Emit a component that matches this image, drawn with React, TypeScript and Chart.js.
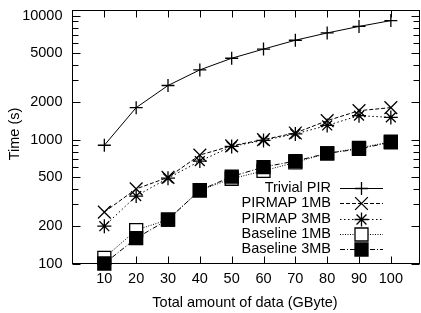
import React, { useEffect, useRef } from 'react';
import { Chart, registerables } from 'chart.js';

Chart.register(...registerables);

// ---- data ----
const xValues = [10, 20, 30, 40, 50, 60, 70, 80, 90, 100];
const trivialPIR = [900, 1810, 2730, 3650, 4530, 5370, 6330, 7250, 8180, 9120];
const pirmap1MB = [260, 400, 495, 750, 890, 1000, 1130, 1420, 1710, 1810];
const pirmap3MB = [200, 350, 488, 670, 880, 985, 1110, 1300, 1560, 1510];
const baseline1MB = [111, 186, 226, 390, 483, 559, 655, 774, 855, 960];
const baseline3MB = [100, 160, 226, 390, 503, 600, 671, 774, 840, 950];
const seriesLabels = ['Trivial PIR', 'PIRMAP 1MB', 'PIRMAP 3MB', 'Baseline 1MB', 'Baseline 3MB'];
const seriesValues = [trivialPIR, pirmap1MB, pirmap3MB, baseline1MB, baseline3MB];

const xTicks = [10, 20, 30, 40, 50, 60, 70, 80, 90, 100];
const yTicks = [100, 200, 500, 1000, 2000, 5000, 10000];
const yTickLabels = ['100', '200', '500', '1000', '2000', '5000', '10000'];
const yMinorTicks = [300, 400, 600, 700, 800, 900, 3000, 4000, 6000, 7000, 8000, 9000];
const xTitle = 'Total amount of data (GByte)';
const yTitle = 'Time (s)';

// ---- styles ----
const FONT = '14.5px "Liberation Sans", Arial, sans-serif';
const seriesStyles = [
  { pointStyle: 'cross', radius: 6.5, dash: [] as number[], fill: '#000' },
  { pointStyle: 'crossRot', radius: 9, dash: [4, 2], fill: '#000' },
  { pointStyle: 'star', radius: 7, dash: [1.5, 2.5], fill: '#000' },
  { pointStyle: 'rect', radius: 9.2, dash: [1, 1.5], fill: '#fff' },
  { pointStyle: 'rect', radius: 9.2, dash: [5, 2, 1, 2], fill: '#000' },
];

function drawMarker(ctx: CanvasRenderingContext2D, style: string, x: number, y: number, r: number, fill: string) {
  ctx.save();
  ctx.setLineDash([]);
  ctx.lineWidth = 1.3;
  ctx.strokeStyle = '#000';
  ctx.beginPath();
  const d = r * Math.SQRT1_2;
  if (style === 'cross' || style === 'star') {
    ctx.moveTo(x - r, y); ctx.lineTo(x + r, y);
    ctx.moveTo(x, y - r); ctx.lineTo(x, y + r);
  }
  if (style === 'crossRot' || style === 'star') {
    ctx.moveTo(x - d, y - d); ctx.lineTo(x + d, y + d);
    ctx.moveTo(x - d, y + d); ctx.lineTo(x + d, y - d);
  }
  if (style === 'rect') {
    ctx.rect(x - d, y - d, 2 * d, 2 * d);
    ctx.fillStyle = fill;
    ctx.fill();
  }
  ctx.stroke();
  ctx.restore();
}

const axesPlugin = {
  id: 'gnuplotAxes',
  beforeDatasetsDraw(chart: any) {
    const { ctx, chartArea: a, scales } = chart;
    const x = scales.x, y = scales.y;
    ctx.save();
    ctx.strokeStyle = '#000';
    ctx.lineWidth = 1;
    ctx.setLineDash([]);
    ctx.strokeRect(a.left, a.top, a.right - a.left, a.bottom - a.top);
    ctx.beginPath();
    for (const v of xTicks) {
      const px = Math.round(x.getPixelForValue(v)) + 0.5;
      ctx.moveTo(px, a.bottom); ctx.lineTo(px, a.bottom - 7);
      ctx.moveTo(px, a.top); ctx.lineTo(px, a.top + 7);
    }
    for (const v of yTicks) {
      const py = Math.round(y.getPixelForValue(v)) + 0.5;
      ctx.moveTo(a.left, py); ctx.lineTo(a.left + 8, py);
      ctx.moveTo(a.right, py); ctx.lineTo(a.right - 8, py);
    }
    for (const v of yMinorTicks) {
      const py = Math.round(y.getPixelForValue(v)) + 0.5;
      ctx.moveTo(a.left, py); ctx.lineTo(a.left + 6, py);
      ctx.moveTo(a.right, py); ctx.lineTo(a.right - 6, py);
    }
    ctx.stroke();

    ctx.fillStyle = '#000';
    ctx.font = FONT;
    ctx.textBaseline = 'middle';
    ctx.textAlign = 'center';
    for (const v of xTicks) {
      ctx.fillText(String(v), x.getPixelForValue(v), a.bottom + 15);
    }
    ctx.textAlign = 'right';
    yTicks.forEach((v, i) => {
      ctx.fillText(yTickLabels[i], a.left - 10, y.getPixelForValue(v));
    });
    ctx.textAlign = 'center';
    ctx.fillText(xTitle, (a.left + a.right) / 2 - 1, a.bottom + 39);
    ctx.save();
    ctx.translate(15, (a.top + a.bottom) / 2 - 3);
    ctx.rotate(-Math.PI / 2);
    ctx.fillText(yTitle, 0, 0);
    ctx.restore();
    ctx.restore();
  },
  afterDraw(chart: any) {
    const { ctx } = chart;
    ctx.save();
    ctx.font = FONT;
    ctx.fillStyle = '#000';
    ctx.textAlign = 'right';
    ctx.textBaseline = 'middle';
    chart.data.datasets.forEach((ds: any, i: number) => {
      const st = seriesStyles[i];
      const yy = 188.3 + i * 15.1;
      ctx.fillText(ds.label, 331, yy);
      ctx.save();
      ctx.strokeStyle = '#000';
      ctx.lineWidth = 1;
      ctx.setLineDash(st.dash);
      ctx.beginPath();
      ctx.moveTo(340, Math.round(yy) + 0.5);
      ctx.lineTo(383, Math.round(yy) + 0.5);
      ctx.stroke();
      ctx.restore();
      drawMarker(ctx, st.pointStyle, 361.5, Math.round(yy) + 0.5, st.radius, st.fill);
    });
    ctx.restore();
  },
};

export default function App() {
  const canvasRef = useRef<HTMLCanvasElement | null>(null);

  useEffect(() => {
    document.body.style.margin = '0';
    document.body.style.overflow = 'hidden';
    const canvas = canvasRef.current;
    if (!canvas) return;
    const datasets = seriesLabels.map((label, i) => {
      const st = seriesStyles[i];
      return {
        label,
        data: xValues.map((xv, j) => ({ x: xv, y: seriesValues[i][j] })),
        borderColor: '#000',
        borderWidth: 1,
        borderDash: st.dash,
        backgroundColor: st.fill,
        pointStyle: st.pointStyle,
        pointRadius: st.radius,
        pointBorderWidth: 1.3,
        pointBorderColor: '#000',
        pointBackgroundColor: st.fill,
        tension: 0,
        fill: false,
        clip: false,
        order: seriesLabels.length - 1 - i,
      };
    });
    const chart = new Chart(canvas, {
      type: 'line',
      data: { datasets: datasets as any },
      options: {
        responsive: false,
        devicePixelRatio: 1,
        animation: false,
        events: [],
        layout: { padding: { left: 72.5, top: 6.5, right: 8.5, bottom: 49.5 } },
        scales: {
          x: { type: 'linear', min: 0, max: 109, display: false },
          y: { type: 'logarithmic', min: 100, max: 11000, display: false },
        },
        plugins: { legend: { display: false }, tooltip: { enabled: false } },
      },
      plugins: [axesPlugin],
    });
    return () => chart.destroy();
  }, []);

  return (
    <div style={{ width: 421, height: 313, overflow: 'hidden', background: '#fff' }}>
      <canvas ref={canvasRef} width={430} height={313} style={{ display: 'block' }} />
    </div>
  );
}
